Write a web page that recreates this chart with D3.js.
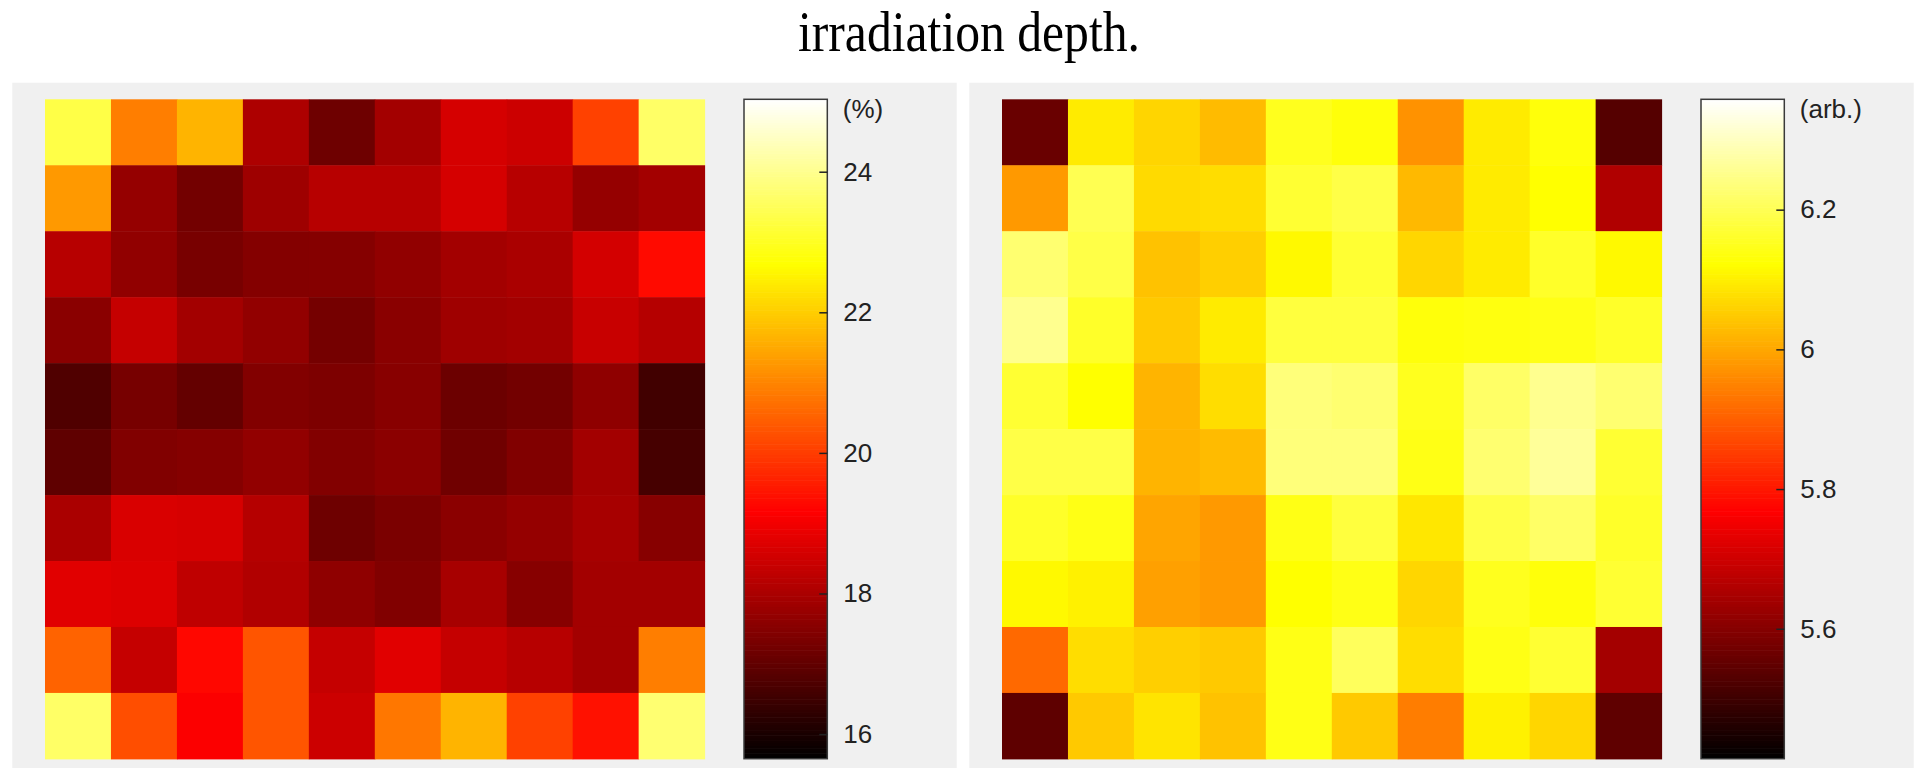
<!DOCTYPE html>
<html>
<head>
<meta charset="utf-8">
<script src="https://cdn.jsdelivr.net/npm/d3@7"></script>
<style>
  body { margin: 0; background: #fff; }
  svg { display: block; }
</style>
</head>
<body>
<svg id="chart"></svg>
<script>
var titleText = "irradiation depth.";

var rows = ["1", "2", "3", "4", "5", "6", "7", "8", "9", "10"];
var cols = ["1", "2", "3", "4", "5", "6", "7", "8", "9", "10"];

// left map, percent
var leftValues = [
    [23.34, 20.90, 21.65, 18.04, 17.17, 17.90, 18.59, 18.46, 20.06, 23.62],
    [21.28, 17.71, 17.24, 17.83, 18.18, 18.18, 18.59, 18.18, 17.71, 17.90],
    [18.18, 17.65, 17.30, 17.47, 17.49, 17.65, 17.90, 17.99, 18.56, 19.31],
    [17.55, 18.37, 17.90, 17.67, 17.27, 17.55, 17.85, 17.90, 18.41, 18.14],
    [16.76, 17.29, 17.03, 17.44, 17.38, 17.52, 17.14, 17.24, 17.62, 16.55],
    [16.96, 17.43, 17.48, 17.67, 17.44, 17.57, 17.20, 17.43, 17.90, 16.62],
    [17.99, 18.65, 18.60, 18.14, 17.17, 17.34, 17.57, 17.70, 17.95, 17.51],
    [18.75, 18.70, 18.28, 18.09, 17.62, 17.43, 17.95, 17.51, 17.90, 17.90],
    [20.53, 18.37, 19.26, 20.34, 18.37, 18.75, 18.37, 18.18, 17.90, 20.90],
    [23.62, 20.25, 19.12, 20.34, 18.46, 20.81, 21.65, 20.06, 19.40, 23.72]
];
var leftClim = [15.65, 25.03];
var leftTicks = [16, 18, 20, 22, 24];
var leftUnit = "(%)";

// right map, arbitrary units
var rightValues = [
    [5.560, 6.094, 6.063, 6.028, 6.150, 6.131, 5.971, 6.094, 6.131, 5.532],
    [5.980, 6.198, 6.070, 6.075, 6.169, 6.188, 6.025, 6.094, 6.122, 5.659],
    [6.226, 6.188, 6.037, 6.056, 6.113, 6.169, 6.065, 6.094, 6.160, 6.113],
    [6.254, 6.160, 6.047, 6.094, 6.179, 6.179, 6.131, 6.136, 6.141, 6.160],
    [6.169, 6.122, 6.018, 6.075, 6.235, 6.226, 6.150, 6.216, 6.254, 6.226],
    [6.188, 6.188, 6.018, 6.028, 6.235, 6.235, 6.141, 6.226, 6.264, 6.169],
    [6.160, 6.141, 5.997, 5.980, 6.141, 6.179, 6.089, 6.188, 6.216, 6.160],
    [6.113, 6.103, 5.990, 5.980, 6.122, 6.141, 6.065, 6.150, 6.131, 6.169],
    [5.914, 6.075, 6.056, 6.047, 6.141, 6.207, 6.075, 6.141, 6.169, 5.641],
    [5.544, 6.047, 6.084, 6.037, 6.141, 6.047, 5.942, 6.103, 6.065, 5.546]
];
var rightClim = [5.414, 6.358];
var rightTicks = [5.6, 5.8, 6, 6.2];
var rightUnit = "(arb.)";

// matlab style "hot" colormap
function hot(t) {
    t = Math.max(0, Math.min(1, t));
    var r = Math.min(1, t / 0.375);
    var g = Math.max(0, Math.min(1, (t - 0.375) / 0.375));
    var b = Math.max(0, Math.min(1, (t - 0.75) / 0.25));
    return d3.rgb(r * 255, g * 255, b * 255).toString();
}

var svgWidth = 1920, svgHeight = 768;
var svg = d3.select("#chart")
    .attr("width", svgWidth)
    .attr("height", svgHeight);

svg.append("text")
    .attr("x", 969)
    .attr("y", 51)
    .attr("text-anchor", "middle")
    .attr("font-family", "'Liberation Serif', 'Times New Roman', serif")
    .attr("font-size", 57)
    .attr("textLength", 342)
    .attr("lengthAdjust", "spacingAndGlyphs")
    .attr("fill", "#000")
    .text(titleText);

drawPanel(12.3, leftValues, leftClim, leftTicks, leftUnit);
drawPanel(969.3, rightValues, rightClim, rightTicks, rightUnit);

function drawPanel(left, values, clim, ticks, unit) {
    var panelW = 944.4;
    var top = 82.7;
    var g = svg.append("g");

    g.append("rect")
        .attr("x", left)
        .attr("y", top)
        .attr("width", panelW)
        .attr("height", svgHeight - top)
        .attr("fill", "#f0f0f0");

    var mapLeft = left + 32.7, mapTop = 99.3, mapSize = 659.6;
    var x = d3.scaleBand().domain(cols).range([mapLeft, mapLeft + mapSize]);
    var y = d3.scaleBand().domain(rows).range([mapTop, mapTop + mapSize]);
    var color = d3.scaleSequential(hot).domain(clim);

    var cells = [];
    values.forEach(function(row, i) {
        row.forEach(function(v, j) {
            cells.push({ row: rows[i], col: cols[j], value: v });
        });
    });

    g.selectAll("rect.cell")
        .data(cells)
        .enter().append("rect")
        .attr("class", "cell")
        .attr("x", function(d) { return x(d.col) })
        .attr("y", function(d) { return y(d.row) })
        .attr("width", x.bandwidth() + 0.5)
        .attr("height", y.bandwidth() + 0.5)
        .attr("fill", function(d) { return color(d.value) });

    // colorbar
    var cbLeft = left + 731.7, cbW = 83.3;
    var cbTop = 99.3, cbBottom = 758.7;
    var cy = d3.scaleLinear().domain(clim).range([cbBottom, cbTop]);
    var steps = d3.range(0, 256).map(function(k) {
        return clim[0] + (clim[1] - clim[0]) * k / 256;
    });
    var stepH = (cbBottom - cbTop) / 256;

    g.selectAll("rect.cb")
        .data(steps)
        .enter().append("rect")
        .attr("class", "cb")
        .attr("x", cbLeft)
        .attr("y", function(d) { return cy(d) - stepH - 0.3 })
        .attr("width", cbW)
        .attr("height", stepH + 0.6)
        .attr("fill", function(d) { return color(d + (clim[1] - clim[0]) / 512) });

    g.append("rect")
        .attr("x", cbLeft)
        .attr("y", cbTop)
        .attr("width", cbW)
        .attr("height", cbBottom - cbTop)
        .attr("fill", "none")
        .attr("stroke", "#3a3a3a")
        .attr("stroke-width", 1.5);

    var axis = g.append("g")
        .attr("transform", "translate(" + (cbLeft + cbW) + ",0)")
        .call(d3.axisLeft(cy).tickValues(ticks).tickSize(8).tickPadding(-24)
            .tickFormat(d3.format("")));
    axis.select(".domain").remove();
    axis.selectAll(".tick line")
        .attr("stroke", "#222")
        .attr("stroke-width", 1.5);
    axis.selectAll(".tick text")
        .attr("text-anchor", "start")
        .attr("x", 16)
        .attr("dy", "0.32em")
        .attr("font-family", "Arial, 'Liberation Sans', sans-serif")
        .attr("font-size", 26)
        .attr("fill", "#222");

    g.append("text")
        .attr("x", cbLeft + cbW + 15.5)
        .attr("y", 117.5)
        .attr("font-family", "Arial, 'Liberation Sans', sans-serif")
        .attr("font-size", 26)
        .attr("fill", "#222")
        .text(unit);
}
</script>
</body>
</html>
